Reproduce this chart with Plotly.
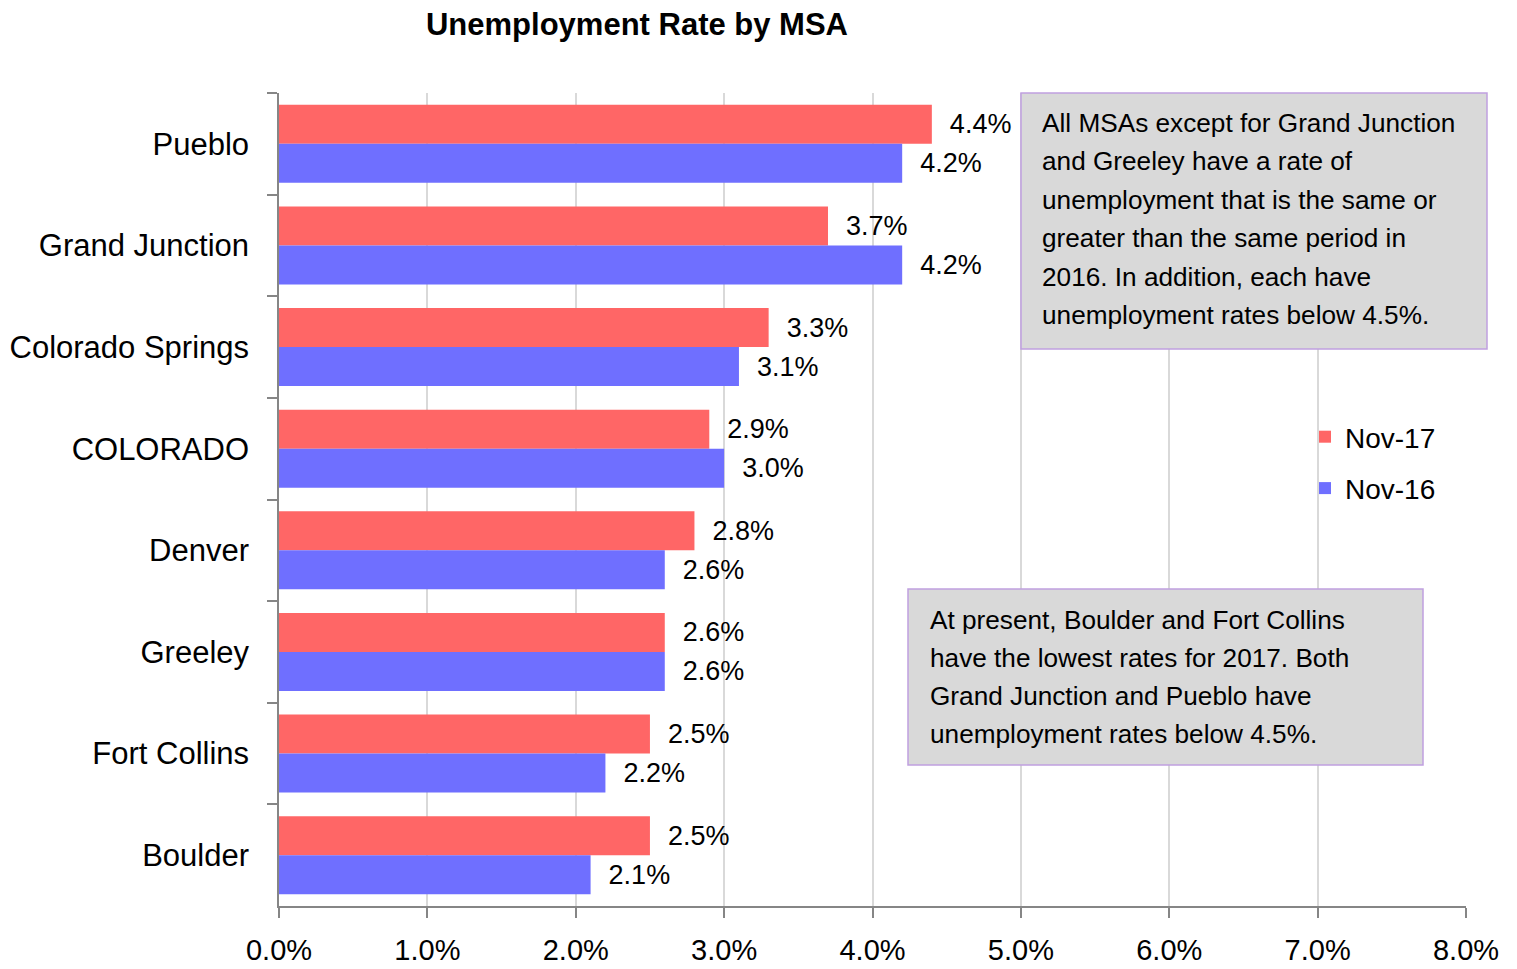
import plotly.graph_objects as go

# ---- data ----
categories = ["Pueblo", "Grand Junction", "Colorado Springs", "COLORADO",
              "Denver", "Greeley", "Fort Collins", "Boulder"]
nov17 = [0.044, 0.037, 0.033, 0.029, 0.028, 0.026, 0.025, 0.025]
nov16 = [0.042, 0.042, 0.031, 0.030, 0.026, 0.026, 0.022, 0.021]
series_names = ["Nov-17", "Nov-16"]
title_text = "Unemployment Rate by MSA"
note1_lines = [
    "All MSAs except for Grand Junction",
    "and Greeley have a rate of",
    "unemployment that is the same or",
    "greater than the same period in",
    "2016. In addition, each have",
    "unemployment rates below 4.5%.",
]
note2_lines = [
    "At present, Boulder and Fort Collins",
    "have the lowest rates for 2017. Both",
    "Grand Junction and Pueblo have",
    "unemployment rates below 4.5%.",
]

FONT = "Liberation Sans Narrow, Arial Narrow, Liberation Sans, Arial, sans-serif"
RED = "#FF6666"
BLUE = "#6F6FFF"

W, H = 1517, 969
PL, PR, PT, PB = 279, 1466, 93, 906


def px_x(px):
    return (px - PL) / (PR - PL)


def px_y(py):
    return (PB - py) / (PB - PT)


fig = go.Figure()
for name, vals, col in [(series_names[0], nov17, RED), (series_names[1], nov16, BLUE)]:
    fig.add_trace(go.Bar(
        y=categories, x=vals, name=name, orientation="h",
        marker=dict(color=col, line=dict(width=0)),
        text=vals, texttemplate="\u00a0\u00a0%{x:.1%}", textposition="outside",
        textfont=dict(family=FONT, size=27, color="black"),
        cliponaxis=False, legendgroup=name,
    ))

fig.update_layout(
    width=W, height=H,
    margin=dict(l=PL, r=W - PR, t=PT, b=H - PB, autoexpand=False),
    paper_bgcolor="white", plot_bgcolor="white",
    barmode="group", bargap=0.232, bargroupgap=0,
    font=dict(family=FONT, color="black"),
    title=dict(text="<b>" + title_text + "</b>", x=637 / W, xanchor="center",
               xref="container", yref="container", y=1 - 24 / H, yanchor="middle",
               font=dict(family=FONT, size=31, color="black")),
    legend=dict(x=px_x(1305), y=px_y(412), xanchor="left", yanchor="top",
                font=dict(family=FONT, size=28, color="black"),
                bgcolor="rgba(0,0,0,0)", tracegroupgap=12, itemwidth=30),
    showlegend=True,
    xaxis=dict(range=[0, 0.08], dtick=0.01, tickformat=".1%",
               showgrid=True, gridcolor="#D9D9D9", gridwidth=2,
               showline=True, linecolor="#868686", linewidth=1.5,
               ticks="outside", ticklen=10, tickcolor="#868686", tickwidth=1.5,
               tickfont=dict(family=FONT, size=29, color="black"),
               ticklabelstandoff=7, zeroline=False, fixedrange=True),
    yaxis=dict(autorange="reversed", showgrid=False,
               showline=True, linecolor="#868686", linewidth=1.5,
               ticks="outside", ticklen=10, tickcolor="#868686", tickwidth=1.5,
               tickson="boundaries",
               tickfont=dict(family=FONT, size=31, color="black"),
               ticklabelstandoff=22, fixedrange=True),
)

# note boxes
boxes = [
    (1021, 93, 1487, 349, 1040, 123, 38.4, note1_lines),
    (908, 589, 1423, 765, 928, 620, 38.0, note2_lines),
]
for x0, y0, x1, y1, tx, ty0, dy, lines in boxes:
    fig.add_shape(type="rect", xref="paper", yref="paper",
                  x0=px_x(x0), x1=px_x(x1), y0=px_y(y0), y1=px_y(y1),
                  fillcolor="#D9D9D9", line=dict(color="#C0A0E0", width=1.5),
                  layer="above")
    for i, ln in enumerate(lines):
        fig.add_annotation(xref="paper", yref="paper",
                           x=px_x(tx), y=px_y(ty0 + i * dy),
                           xanchor="left", yanchor="middle", showarrow=False,
                           text=ln, align="left",
                           font=dict(family=FONT, size=26.2, color="black"))

fig.write_html("out.html",
               config={"displayModeBar": False},
               post_script="document.body.style.margin='0px';"
                           "document.body.style.overflow='hidden';")
